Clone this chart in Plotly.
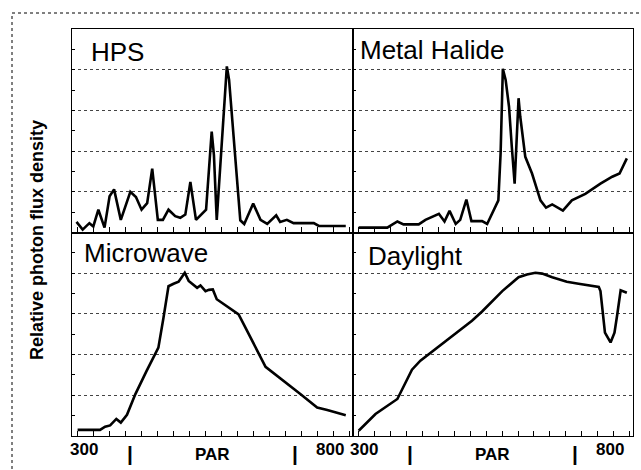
import plotly.graph_objects as go
from plotly.subplots import make_subplots

# ---- data (wavelength nm, relative photon flux) ----
hps_nm = [308, 319, 331, 338, 347, 358, 367, 375, 387, 404, 414, 424, 434, 443, 453, 462, 472, 484, 493,
          502, 511, 521, 539, 549, 553, 558, 576, 578, 580, 600, 607, 623, 636, 648, 664, 671, 683, 695,
          731, 740, 788]
hps_val = [0.26, 0.07, 0.23, 0.15, 0.56, 0.12, 0.89, 1.06, 0.31, 1.00, 0.87, 0.56, 0.72, 1.57, 0.31, 0.31,
           0.56, 0.40, 0.36, 0.44, 1.24, 0.31, 0.56, 2.48, 1.90, 0.31, 4.08, 3.85, 3.75, 0.30, 0.21, 0.71,
           0.31, 0.21, 0.42, 0.26, 0.31, 0.23, 0.23, 0.16, 0.16]

mh_nm = [311, 362, 380, 391, 418, 430, 454, 464, 473, 484, 492, 503, 512, 531, 540, 560, 564, 568, 573,
         579, 584, 589, 596, 599, 608, 620, 635, 645, 656, 675, 691, 715, 742, 763, 776, 789]
mh_val = [0.12, 0.12, 0.27, 0.20, 0.20, 0.31, 0.46, 0.27, 0.53, 0.21, 0.31, 0.81, 0.28, 0.28, 0.21, 0.79,
          1.94, 4.02, 3.75, 3.09, 2.10, 1.20, 3.30, 2.85, 1.86, 1.45, 0.79, 0.61, 0.69, 0.54, 0.79, 0.95,
          1.20, 1.37, 1.45, 1.82]

mw_nm = [310, 350, 359, 368, 379, 387, 398, 413, 433, 454, 463, 472, 481, 490, 494, 501, 508, 515, 523,
         529, 538, 544, 551, 558, 576, 597, 645, 666, 707, 737, 755, 788]
mw_val = [0.15, 0.15, 0.23, 0.26, 0.42, 0.33, 0.52, 1.03, 1.60, 2.17, 2.90, 3.68, 3.74, 3.79, 3.87, 4.01,
          3.81, 3.73, 3.64, 3.70, 3.56, 3.59, 3.60, 3.36, 3.19, 2.99, 1.70, 1.48, 1.03, 0.70, 0.64, 0.51]

dl_nm = [311, 341, 380, 406, 421, 513, 531, 567, 596, 611, 626, 638, 656, 682, 703, 739, 742, 745, 750,
         760, 767, 772, 778, 789]
dl_val = [0.13, 0.54, 0.91, 1.63, 1.85, 2.83, 3.06, 3.56, 3.90, 3.97, 4.01, 3.99, 3.90, 3.79, 3.74, 3.66,
          3.56, 3.11, 2.54, 2.30, 2.54, 2.99, 3.58, 3.52]

panel_names = ["HPS", "Metal Halide", "Microwave", "Daylight"]
x_labels = ["300", "|", "PAR", "|", "800"]
y_title = "Relative photon flux density"

# ---- geometry ----
W, H = 641, 470
L, R, T, B = 72, 633, 29, 436

def px(x):
    return (x - L) / (R - L)

def py(y):
    return (B - y) / (B - T)

fig = make_subplots(rows=2, cols=2, horizontal_spacing=0, vertical_spacing=0)

series = [(hps_nm, hps_val, 1, 1), (mh_nm, mh_val, 1, 2), (mw_nm, mw_val, 2, 1), (dl_nm, dl_val, 2, 2)]
for xs, ys, r, c in series:
    fig.add_trace(go.Scatter(x=xs, y=ys, mode="lines", line=dict(color="black", width=2.6),
                             showlegend=False, hoverinfo="skip"), row=r, col=c)

for r in (1, 2):
    for c in (1, 2):
        fig.update_xaxes(range=[300, 800], showline=True, linecolor="black", linewidth=1.3, mirror=True,
                         ticks="inside", ticklen=5, tickcolor="black", tickwidth=1,
                         tick0=310, dtick=28.5, showticklabels=False, showgrid=False, zeroline=False,
                         row=r, col=c)
        fig.update_yaxes(range=[0, 5], showline=True, linecolor="black", linewidth=1.3, mirror=True,
                         ticks="inside", ticklen=3, tickcolor="black", tickwidth=1,
                         tick0=0, dtick=1, showticklabels=False,
                         showgrid=True, gridcolor="#444444", gridwidth=1, griddash="dot", zeroline=False,
                         minor=dict(dtick=0.5, ticks="inside", ticklen=3, tickcolor="black", showgrid=False),
                         row=r, col=c)

ann = []
font_title = dict(family="Liberation Sans, Arial, sans-serif", size=26, color="black")
title_pos = [(89, 52), (358, 50), (82, 253), (366, 256)]
for name, (tx, ty) in zip(panel_names, title_pos):
    ann.append(dict(text=name, x=px(tx), y=py(ty), xref="paper", yref="paper", xanchor="left",
                    yanchor="middle", showarrow=False, font=font_title))

for off in (0, 280):
    pos = [(68 + off, 449, "left", 17), (130 + off, 453, "center", 21), (212 + off, 454, "center", 17),
           (295 + off, 453, "center", 21), (346 + off, 449, "right", 17)]
    for lab, (lx, ly, anc, fs) in zip(x_labels, pos):
        txt = "<b>" + lab + "</b>"
        ann.append(dict(text=txt, x=px(lx), y=py(ly), xref="paper", yref="paper", xanchor=anc,
                        yanchor="middle", showarrow=False,
                        font=dict(family="Liberation Sans, Arial, sans-serif", size=fs, color="black")))

ann.append(dict(text="<b>" + y_title + "</b>", x=px(37), y=py(240), xref="paper", yref="paper",
                xanchor="center", yanchor="middle", textangle=-90, showarrow=False,
                font=dict(family="Liberation Sans, Arial, sans-serif", size=18, color="black")))

shapes = [dict(type="rect", xref="paper", yref="paper", x0=px(12), x1=px(660), y0=py(13), y1=py(490),
               line=dict(color="black", width=1, dash="dot"), fillcolor="rgba(0,0,0,0)", layer="below")]

fig.update_layout(width=W, height=H, margin=dict(l=L, r=W - R, t=T, b=H - B),
                  paper_bgcolor="white", plot_bgcolor="white", annotations=ann, shapes=shapes,
                  showlegend=False)

fig.write_html("out.html")
